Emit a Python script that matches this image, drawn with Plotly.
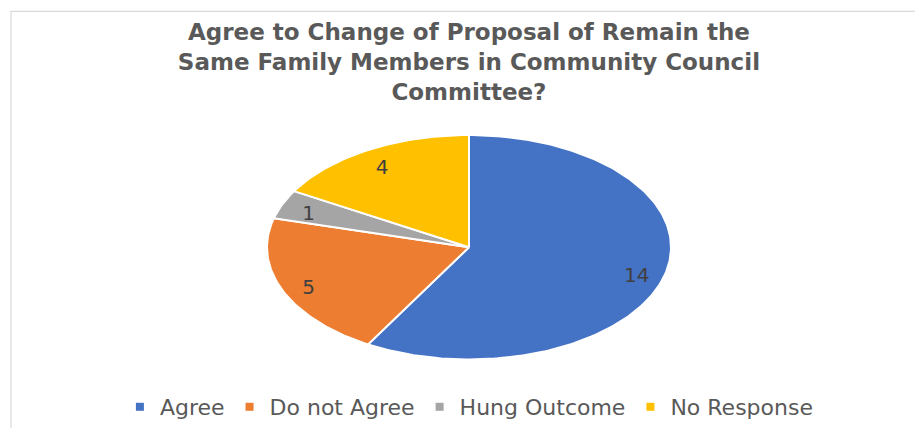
import numpy as np
import plotly.graph_objects as go

# ---- data ----
categories = ["Agree", "Do not Agree", "Hung Outcome", "No Response"]
values = [14, 5, 1, 4]
colors = ["#4472C4", "#ED7D31", "#A5A5A5", "#FFC000"]
title_text = ("Agree to Change of Proposal of Remain the<br>"
              "Same Family Members in Community Council<br>Committee?")

# ---- layout constants (pixels) ----
W, H = 915, 428
CX, CY = 469, 249      # pie centre (from top-left)
RX, RY = 202, 113      # ellipse radii
LABEL_R = 0.86
LABEL_DY = -5 / RY     # small downward nudge of the data labels

fig = go.Figure()

total = float(sum(values))
fracs = np.array(values, dtype=float) / total
starts = np.concatenate([[0.0], np.cumsum(fracs)[:-1]])

lab_x, lab_y = [], []
for cat, f, s, col in zip(categories, fracs, starts, colors):
    n = max(int(f * 360), 4)
    theta = np.deg2rad(90 - 360 * (s + np.linspace(0, f, n)))
    xs = np.concatenate([[0], np.cos(theta), [0]])
    ys = np.concatenate([[0], np.sin(theta), [0]])
    fig.add_trace(go.Scatter(
        x=xs, y=ys, mode="lines", fill="toself", fillcolor=col,
        line=dict(color="white", width=2), name=cat, showlegend=False,
        hoverinfo="skip"))
    mid = np.deg2rad(90 - 360 * (s + f / 2))
    lab_x.append(LABEL_R * np.cos(mid))
    lab_y.append(LABEL_R * np.sin(mid) + LABEL_DY)

fig.add_trace(go.Scatter(
    x=lab_x, y=lab_y, mode="text", text=[str(v) for v in values],
    textfont=dict(family="DejaVu Sans", size=20, color="#404040"),
    showlegend=False, hoverinfo="skip"))

# legend entries
for cat, col in zip(categories, colors):
    fig.add_trace(go.Scatter(
        x=[None], y=[None], mode="markers", name=cat,
        marker=dict(symbol="square", size=8, color=col)))

fig.update_layout(
    width=W, height=H,
    margin=dict(l=0, r=0, t=0, b=0),
    paper_bgcolor="white", plot_bgcolor="white",
    xaxis=dict(range=[-CX / RX, (W - CX) / RX], visible=False, fixedrange=True),
    yaxis=dict(range=[-(H - CY) / RY, CY / RY], visible=False, fixedrange=True),
    title=dict(text=title_text, x=0.5125, xanchor="center",
               y=1 - 40 / H, yanchor="middle",
               font=dict(family="DejaVu Sans", size=23, color="#595959",
                         weight="bold")),
    legend=dict(orientation="h", x=0.513, xanchor="center",
                y=1 - 410 / H, yanchor="middle",
                font=dict(family="DejaVu Sans", size=22, color="#595959"),
                bgcolor="rgba(0,0,0,0)"),
    shapes=[dict(type="rect", xref="paper", yref="paper",
                 x0=11 / W, x1=1.05, y0=-0.05, y1=1 - 11.5 / H,
                 line=dict(color="#D9D9D9", width=1.2))],
)

fig.write_html("out.html", config={"displayModeBar": False},
               post_script="document.body.style.margin='0';")
